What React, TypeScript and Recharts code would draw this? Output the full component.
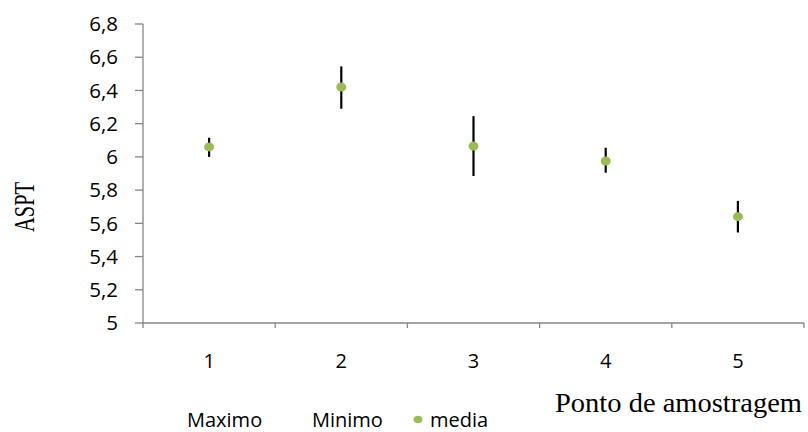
import React from 'react';
import { ComposedChart, Scatter, ErrorBar, XAxis, YAxis, Legend } from 'recharts';

const categories = [1, 2, 3, 4, 5];
const mediaValues = [6.06, 6.42, 6.065, 5.975, 5.64];
const maxValues = [6.115, 6.545, 6.245, 6.055, 5.735];
const minValues = [6.0, 6.29, 5.885, 5.905, 5.545];
const yTicks = [5, 5.2, 5.4, 5.6, 5.8, 6, 6.2, 6.4, 6.6, 6.8];
const xBoundaryTicks = [0.5, 1.5, 2.5, 3.5, 4.5, 5.5];
const seriesNames = ['Maximo', 'Minimo', 'media'];
const yTitle = 'ASPT';
const xTitle = 'Ponto de amostragem';

const data = categories.map((c, i) => ({
  x: c,
  media: mediaValues[i],
  err: [mediaValues[i] - minValues[i], maxValues[i] - mediaValues[i]],
}));

const allXTicks = [...xBoundaryTicks, ...categories].sort((a, b) => a - b);

const AXIS = '#868686';
const GREEN = '#9BBB59';
const FONT = '"Open Sans", sans-serif';
const SERIF = '"Liberation Serif", "Times New Roman", serif';

const XTick = (props: any) => {
  const { x, y, payload } = props;
  const v = payload.value;
  if (Number.isInteger(v)) {
    return (
      <text x={x} y={y + 45} textAnchor="middle" fontFamily={FONT} fontSize={20} fill="#000">
        {v}
      </text>
    );
  }
  return <line x1={x} x2={x} y1={y} y2={y + 5} stroke={AXIS} strokeWidth={1.3} />;
};

const renderLegend = () => (
  <svg width={808} height={30} style={{ display: 'block', overflow: 'visible' }}>
    <text x={187} y={24.5} fontFamily={FONT} fontSize={20} fill="#000">{seriesNames[0]}</text>
    <text x={312} y={24.5} fontFamily={FONT} fontSize={20} fill="#000">{seriesNames[1]}</text>
    <ellipse cx={418} cy={17.5} rx={4.5} ry={3.8} fill={GREEN} />
    <text x={430} y={24.5} fontFamily={FONT} fontSize={20} fill="#000">{seriesNames[2]}</text>
  </svg>
);

const Dot = (props: any) => {
  const { cx, cy } = props;
  return <ellipse cx={cx} cy={cy} rx={5} ry={4.5} fill={GREEN} />;
};

export default function App() {
  return (
    <div style={{ position: 'absolute', left: 0, top: 0 }}>
      <ComposedChart
        width={808}
        height={432}
        data={data}
        margin={{ top: 24, right: 4, bottom: 0, left: 0 }}
      >
        <XAxis
          type="number"
          dataKey="x"
          domain={[0.5, 5.5]}
          ticks={allXTicks}
          interval={0}
          height={79}
          tickSize={0}
          tickMargin={0}
          tickLine={false}
          axisLine={{ stroke: AXIS, strokeWidth: 1.3 }}
          tick={<XTick />}
          label={{
            content: () => (
              <text
                x={555}
                y={412}
                fontFamily={SERIF}
                fontSize={27}
                textLength={247}
                lengthAdjust="spacingAndGlyphs"
                fill="#000"
              >
                {xTitle}
              </text>
            ),
          }}
        />
        <YAxis
          type="number"
          domain={[5, 6.8]}
          ticks={yTicks}
          interval={0}
          width={143}
          tickSize={8}
          tickMargin={17}
          axisLine={{ stroke: AXIS, strokeWidth: 1.3 }}
          tickLine={{ stroke: AXIS, strokeWidth: 1.3 }}
          tick={{ fontFamily: FONT, fontSize: 20.5, fill: '#000' }}
          tickFormatter={(v: number) => String(v).replace('.', ',')}
          label={{
            content: () => (
              <text
                x={0}
                y={0}
                transform="translate(34,207) rotate(-90)"
                textAnchor="middle"
                fontFamily={SERIF}
                fontSize={29}
                textLength={50}
                lengthAdjust="spacingAndGlyphs"
                fill="#000"
              >
                {yTitle}
              </text>
            ),
          }}
        />
        <Legend verticalAlign="bottom" content={renderLegend} wrapperStyle={{ height: 30 }} />
        <Scatter dataKey="media" name={seriesNames[2]} shape={<Dot />} isAnimationActive={false}>
          <ErrorBar dataKey="err" direction="y" width={0} stroke="#000" strokeWidth={2.2} />
        </Scatter>
      </ComposedChart>
    </div>
  );
}
